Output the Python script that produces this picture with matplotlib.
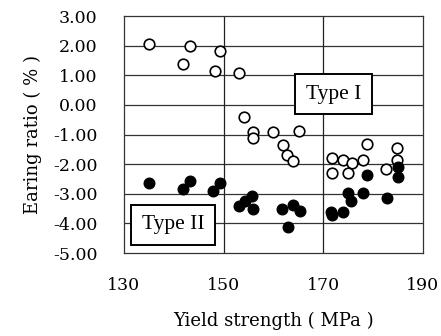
import matplotlib
matplotlib.use("Agg")
import matplotlib.pyplot as plt

plt.rcParams['font.family'] = ['DejaVu Serif', 'Liberation Serif']

# Type I: open circles
type1_x = [135.1, 143.2, 141.9, 149.2, 148.3, 153.0, 154.1, 156.0, 155.9, 160.0,
           165.2, 161.9, 162.7, 164.0, 171.7, 173.9, 175.7, 177.9, 178.8, 171.7,
           175.0, 182.6, 184.7, 184.8]
type1_y = [2.05, 2.0, 1.4, 1.82, 1.15, 1.07, -0.4, -0.9, -1.1, -0.9,
           -0.87, -1.35, -1.7, -1.88, -1.78, -1.85, -1.96, -1.85, -1.32, -2.3,
           -2.3, -2.17, -1.46, -1.85]

# Type II: filled circles
type2_x = [135.1, 143.3, 141.9, 149.3, 147.9, 153.0, 154.3, 155.8, 155.9, 161.8,
           164.0, 165.3, 162.9, 171.8, 173.9, 174.9, 175.6, 177.9, 178.7, 182.8,
           184.9, 184.9, 171.6]
type2_y = [-2.63, -2.57, -2.85, -2.63, -2.92, -3.42, -3.25, -3.09, -3.52, -3.52,
           -3.39, -3.59, -4.12, -3.70, -3.61, -2.98, -3.26, -2.98, -2.37, -3.15,
           -2.09, -2.42, -3.62]

x_ticks = [130, 150, 170, 190]
y_ticks = [3, 2, 1, 0, -1, -2, -3, -4, -5]

fig = plt.figure(figsize=(4.41, 3.36), dpi=100)
ax = fig.add_axes([0.281, 0.247, 0.678, 0.705])

ax.set_xlim(130, 190)
ax.set_ylim(-5, 3)

# grid lines drawn by hand so the top/bottom edges stay as the frame
for yv in y_ticks[1:-1]:
    ax.axhline(yv, color='#333333', lw=0.9, zorder=1)
for xv in x_ticks[1:-1]:
    ax.axvline(xv, color='#222222', lw=0.9, zorder=1)

ax.scatter(type1_x, type1_y, s=58, facecolors='white', edgecolors='black',
           linewidths=1.2, zorder=3)
ax.scatter(type2_x, type2_y, s=58, facecolors='black', edgecolors='black',
           linewidths=1.0, zorder=3)

box = dict(boxstyle='square,pad=0.5', facecolor='white', edgecolor='black', lw=1.4)
ax.text(172.1, 0.37, 'Type I', ha='center', va='center', fontsize=15.5,
        family='Liberation Serif', bbox=box, zorder=4)
ax.text(139.9, -4.05, 'Type II', ha='center', va='center', fontsize=15.5,
        family='Liberation Serif', bbox=box, zorder=4)

ax.set_xticks(x_ticks)
ax.set_xticklabels([str(v) for v in x_ticks])
ax.set_yticks(y_ticks)
ax.set_yticklabels(['%.2f' % v for v in y_ticks])
ax.tick_params(length=0, labelsize=12.5)
ax.tick_params(axis='y', pad=19)
ax.tick_params(axis='x', pad=17)

for sp in ax.spines.values():
    sp.set_linewidth(0.9)
    sp.set_color('#333333')

ax.set_xlabel('Yield strength ( MPa )', fontsize=13, labelpad=13)
ax.set_ylabel('Earing ratio ( % )', fontsize=13, labelpad=8)

fig.savefig('out.png', dpi=100)
